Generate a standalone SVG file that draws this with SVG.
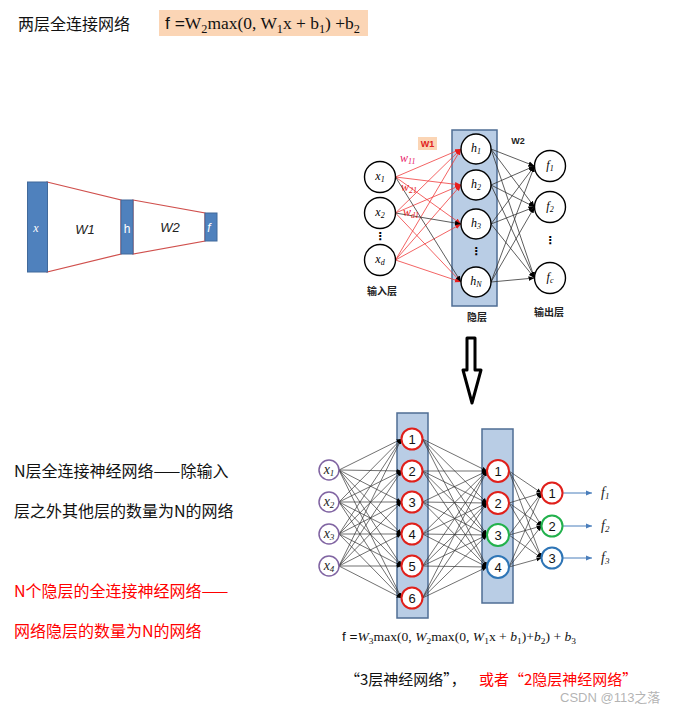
<svg xmlns="http://www.w3.org/2000/svg" width="684" height="704" viewBox="0 0 684 704">
<style>
.cjk{font-family:"Noto Sans CJK SC","Noto Sans",sans-serif;}
.math{font-family:"Liberation Serif","DejaVu Serif",serif;}
.it{font-family:"Liberation Serif","DejaVu Serif",serif;font-style:italic;}
.num{font-family:"Liberation Sans",Arial,sans-serif;font-size:13px;fill:#111;text-anchor:middle;}
.nc{fill:#fff;stroke:#000;stroke-width:1.4;}
.box{fill:#B9CDE5;stroke:#4F6D94;stroke-width:1.5;}
.red{stroke:#F03C3C;stroke-width:0.8;fill:none;marker-end:url(#mr);}
.blk{stroke:#333;stroke-width:0.8;fill:none;marker-end:url(#mk);}
.bl{stroke:#333;stroke-width:0.7;fill:none;marker-end:url(#mk2);}
.out{stroke:#4A7EBB;stroke-width:1;fill:none;marker-end:url(#mb);}
.bar{fill:#4F81BD;stroke:#41699A;stroke-width:1;}
</style>
<defs>
<marker id="mr" viewBox="0 0 10 10" refX="10" refY="5" markerWidth="6" markerHeight="6" markerUnits="userSpaceOnUse" orient="auto"><path d="M0,1 L10,5 L0,9 z" fill="#E81E1E"/></marker>
<marker id="mk" viewBox="0 0 10 10" refX="10" refY="5" markerWidth="6" markerHeight="6" markerUnits="userSpaceOnUse" orient="auto"><path d="M0,1 L10,5 L0,9 z" fill="#000"/></marker>
<marker id="mk2" viewBox="0 0 10 10" refX="10" refY="5" markerWidth="5" markerHeight="5" markerUnits="userSpaceOnUse" orient="auto"><path d="M0,1 L10,5 L0,9 z" fill="#000"/></marker>
<marker id="mb" viewBox="0 0 10 10" refX="10" refY="5" markerWidth="6" markerHeight="6" markerUnits="userSpaceOnUse" orient="auto"><path d="M0,1 L10,5 L0,9 z" fill="#4A7EBB"/></marker>
</defs>
<rect width="684" height="704" fill="#fff"/>

<!-- title -->
<g id="title">
<text class="cjk" x="18" y="30" font-size="16" fill="#111">两层全连接网络</text>
<rect x="159" y="10" width="209" height="26" fill="#FBD5B5"/>
<text class="math" x="165" y="29" font-size="17" fill="#111" textLength="195" lengthAdjust="spacingAndGlyphs"><tspan font-family="Liberation Sans">f  =</tspan>W<tspan font-size="12" dy="4">2</tspan><tspan dy="-4">max(0, W</tspan><tspan font-size="12" dy="4">1</tspan><tspan dy="-4">x + b</tspan><tspan font-size="12" dy="4">1</tspan><tspan dy="-4">) +b</tspan><tspan font-size="12" dy="4">2</tspan></text>
</g>

<!-- left simple diagram -->
<g id="simple">
<polygon points="47,182 121,200 121,254 47,272" fill="#fff" stroke="#D0504D" stroke-width="1.2"/>
<polygon points="133,200 205,213 205,241 133,254" fill="#fff" stroke="#D0504D" stroke-width="1.2"/>
<rect class="bar" x="27.5" y="182" width="20" height="90"/>
<rect class="bar" x="121" y="200" width="12" height="54"/>
<rect class="bar" x="205" y="213" width="12" height="28"/>
<text class="it" x="36" y="232" font-size="12" fill="#fff" text-anchor="middle">x</text>
<text x="85" y="234" font-size="13" fill="#222" text-anchor="middle" font-family="Liberation Sans" font-style="italic">W1</text>
<text x="127" y="233" font-size="12" fill="#fff" text-anchor="middle" font-family="Liberation Sans">h</text>
<text x="170" y="232" font-size="13" fill="#222" text-anchor="middle" font-family="Liberation Sans" font-style="italic">W2</text>
<text x="209" y="232" font-size="12" fill="#fff" text-anchor="middle" font-family="Liberation Sans" font-style="italic">f</text>
</g>

<!-- top network hidden box -->
<g id="top-hidden-box"><rect class="box" x="452" y="130" width="45" height="176"/></g>

<g id="top-connectors">
<line class="red" x1="395.5" y1="177" x2="461" y2="149"/>
<line class="red" x1="395.5" y1="177" x2="461" y2="185"/>
<line class="red" x1="395.5" y1="177" x2="461" y2="224"/>
<line class="red" x1="395.5" y1="213" x2="461" y2="149"/>
<line class="red" x1="395.5" y1="213" x2="461" y2="185"/>
<line class="red" x1="395.5" y1="213" x2="461" y2="282"/>
<line class="red" x1="395.5" y1="260" x2="461" y2="149"/>
<line class="red" x1="395.5" y1="260" x2="461" y2="185"/>
<line class="red" x1="395.5" y1="260" x2="461" y2="224"/>
<line class="red" x1="395.5" y1="260" x2="461" y2="282"/>
<line class="blk" x1="395.5" y1="177" x2="461" y2="282"/>
<line class="blk" x1="395.5" y1="213" x2="461" y2="224"/>

<line class="blk" x1="491" y1="149" x2="534.5" y2="166"/>
<line class="blk" x1="491" y1="149" x2="534.5" y2="207"/>
<line class="blk" x1="491" y1="149" x2="534.5" y2="278"/>
<line class="blk" x1="491" y1="185" x2="534.5" y2="166"/>
<line class="blk" x1="491" y1="185" x2="534.5" y2="207"/>
<line class="blk" x1="491" y1="185" x2="534.5" y2="278"/>
<line class="blk" x1="491" y1="224" x2="534.5" y2="166"/>
<line class="blk" x1="491" y1="224" x2="534.5" y2="207"/>
<line class="blk" x1="491" y1="224" x2="534.5" y2="278"/>
<line class="blk" x1="491" y1="282" x2="534.5" y2="166"/>
<line class="blk" x1="491" y1="282" x2="534.5" y2="207"/>
<line class="blk" x1="491" y1="282" x2="534.5" y2="278"/>
</g>

<g id="top-labels">
<rect x="418" y="137" width="19" height="13" fill="#FBD5B5"/>
<text x="427.5" y="147" font-size="9" font-weight="bold" fill="#E02020" text-anchor="middle" font-family="Liberation Sans">W1</text>
<text x="518" y="144" font-size="9" font-weight="bold" fill="#222" text-anchor="middle" font-family="Liberation Sans">W2</text>
<text class="it" x="400" y="162" font-size="12" fill="#E8206A">w<tspan font-size="8" dy="2">11</tspan></text>
<text class="it" x="401" y="191" font-size="12" fill="#E81E1E">w<tspan font-size="8" dy="2">21</tspan></text>
<text class="it" x="403" y="216" font-size="12" fill="#E81E1E">w<tspan font-size="8" dy="2">d1</tspan></text>
<text class="cjk" x="382" y="295" font-size="10" font-weight="bold" fill="#222" text-anchor="middle">输入层</text>
<text class="cjk" x="477" y="321" font-size="10" font-weight="bold" fill="#222" text-anchor="middle">隐层</text>
<text class="cjk" x="549" y="316" font-size="10" font-weight="bold" fill="#222" text-anchor="middle">输出层</text>
</g>

<g id="x1"><circle class="nc" cx="380" cy="177" r="15.5"/><text class="it" x="380" y="180" font-size="12" text-anchor="middle">x<tspan font-size="8" dy="2">1</tspan></text></g>
<g id="x2"><circle class="nc" cx="380" cy="213" r="15.5"/><text class="it" x="380" y="216" font-size="12" text-anchor="middle">x<tspan font-size="8" dy="2">2</tspan></text></g>
<g id="xdots"><text x="380" y="240" font-size="11" font-weight="bold" text-anchor="middle" font-family="DejaVu Sans">⋮</text></g>
<g id="xd"><circle class="nc" cx="380" cy="260" r="15.5"/><text class="it" x="380" y="263" font-size="12" text-anchor="middle">x<tspan font-size="8" dy="2">d</tspan></text></g>

<g id="h1"><circle class="nc" cx="476" cy="149" r="15"/><text class="it" x="476" y="152" font-size="12" text-anchor="middle">h<tspan font-size="8" dy="2">1</tspan></text></g>
<g id="h2"><circle class="nc" cx="476" cy="185" r="15"/><text class="it" x="476" y="188" font-size="12" text-anchor="middle">h<tspan font-size="8" dy="2">2</tspan></text></g>
<g id="h3"><circle class="nc" cx="476" cy="224" r="15"/><text class="it" x="476" y="227" font-size="12" text-anchor="middle">h<tspan font-size="8" dy="2">3</tspan></text></g>
<g id="hdots"><text x="476" y="255" font-size="11" font-weight="bold" text-anchor="middle" font-family="DejaVu Sans">⋮</text></g>
<g id="hN"><circle class="nc" cx="476" cy="282" r="15"/><text class="it" x="476" y="285" font-size="12" text-anchor="middle">h<tspan font-size="8" dy="2">N</tspan></text></g>

<g id="f1"><circle class="nc" cx="550" cy="166" r="15.5"/><text class="it" x="550" y="169" font-size="12" text-anchor="middle">f<tspan font-size="8" dy="2">1</tspan></text></g>
<g id="f2"><circle class="nc" cx="550" cy="207" r="15.5"/><text class="it" x="550" y="210" font-size="12" text-anchor="middle">f<tspan font-size="8" dy="2">2</tspan></text></g>
<g id="fdots"><text x="550" y="244" font-size="11" font-weight="bold" text-anchor="middle" font-family="DejaVu Sans">⋮</text></g>
<g id="fc"><circle class="nc" cx="550" cy="278" r="15.5"/><text class="it" x="550" y="281" font-size="12" text-anchor="middle">f<tspan font-size="8" dy="2">c</tspan></text></g>

<!-- big hollow arrow -->
<g id="big-arrow"><path d="M467,370 L467,338 L475,338 L475,370 L481,370 L472,403 L463,370 Z" fill="#fff" stroke="#000" stroke-width="3" stroke-linejoin="round"/></g>

<!-- bottom network -->
<g id="bottom-boxes">
<rect class="box" x="397" y="413" width="31" height="205"/>
<rect class="box" x="482" y="429" width="31" height="174"/>
</g>

<g id="bottom-connectors">
<line class="bl" x1="339" y1="470" x2="401.5" y2="439"/><line class="bl" x1="339" y1="470" x2="401.5" y2="471"/><line class="bl" x1="339" y1="470" x2="401.5" y2="502"/><line class="bl" x1="339" y1="470" x2="401.5" y2="534"/><line class="bl" x1="339" y1="470" x2="401.5" y2="566"/><line class="bl" x1="339" y1="470" x2="401.5" y2="598"/>
<line class="bl" x1="339" y1="502" x2="401.5" y2="439"/><line class="bl" x1="339" y1="502" x2="401.5" y2="471"/><line class="bl" x1="339" y1="502" x2="401.5" y2="502"/><line class="bl" x1="339" y1="502" x2="401.5" y2="534"/><line class="bl" x1="339" y1="502" x2="401.5" y2="566"/><line class="bl" x1="339" y1="502" x2="401.5" y2="598"/>
<line class="bl" x1="339" y1="534" x2="401.5" y2="439"/><line class="bl" x1="339" y1="534" x2="401.5" y2="471"/><line class="bl" x1="339" y1="534" x2="401.5" y2="502"/><line class="bl" x1="339" y1="534" x2="401.5" y2="534"/><line class="bl" x1="339" y1="534" x2="401.5" y2="566"/><line class="bl" x1="339" y1="534" x2="401.5" y2="598"/>
<line class="bl" x1="339" y1="566" x2="401.5" y2="439"/><line class="bl" x1="339" y1="566" x2="401.5" y2="471"/><line class="bl" x1="339" y1="566" x2="401.5" y2="502"/><line class="bl" x1="339" y1="566" x2="401.5" y2="534"/><line class="bl" x1="339" y1="566" x2="401.5" y2="566"/><line class="bl" x1="339" y1="566" x2="401.5" y2="598"/>

<line class="bl" x1="422.5" y1="439" x2="487" y2="471"/><line class="bl" x1="422.5" y1="439" x2="487" y2="503"/><line class="bl" x1="422.5" y1="439" x2="487" y2="535"/><line class="bl" x1="422.5" y1="439" x2="487" y2="567"/>
<line class="bl" x1="422.5" y1="471" x2="487" y2="471"/><line class="bl" x1="422.5" y1="471" x2="487" y2="503"/><line class="bl" x1="422.5" y1="471" x2="487" y2="535"/><line class="bl" x1="422.5" y1="471" x2="487" y2="567"/>
<line class="bl" x1="422.5" y1="502" x2="487" y2="471"/><line class="bl" x1="422.5" y1="502" x2="487" y2="503"/><line class="bl" x1="422.5" y1="502" x2="487" y2="535"/><line class="bl" x1="422.5" y1="502" x2="487" y2="567"/>
<line class="bl" x1="422.5" y1="534" x2="487" y2="471"/><line class="bl" x1="422.5" y1="534" x2="487" y2="503"/><line class="bl" x1="422.5" y1="534" x2="487" y2="535"/><line class="bl" x1="422.5" y1="534" x2="487" y2="567"/>
<line class="bl" x1="422.5" y1="566" x2="487" y2="471"/><line class="bl" x1="422.5" y1="566" x2="487" y2="503"/><line class="bl" x1="422.5" y1="566" x2="487" y2="535"/><line class="bl" x1="422.5" y1="566" x2="487" y2="567"/>
<line class="bl" x1="422.5" y1="598" x2="487" y2="471"/><line class="bl" x1="422.5" y1="598" x2="487" y2="503"/><line class="bl" x1="422.5" y1="598" x2="487" y2="535"/><line class="bl" x1="422.5" y1="598" x2="487" y2="567"/>

<line class="bl" x1="509" y1="471" x2="541.5" y2="493"/><line class="bl" x1="509" y1="471" x2="541.5" y2="526"/><line class="bl" x1="509" y1="471" x2="541.5" y2="558"/>
<line class="bl" x1="509" y1="503" x2="541.5" y2="493"/><line class="bl" x1="509" y1="503" x2="541.5" y2="526"/><line class="bl" x1="509" y1="503" x2="541.5" y2="558"/>
<line class="bl" x1="509" y1="535" x2="541.5" y2="493"/><line class="bl" x1="509" y1="535" x2="541.5" y2="526"/><line class="bl" x1="509" y1="535" x2="541.5" y2="558"/>
<line class="bl" x1="509" y1="567" x2="541.5" y2="493"/><line class="bl" x1="509" y1="567" x2="541.5" y2="526"/><line class="bl" x1="509" y1="567" x2="541.5" y2="558"/>

<line class="out" x1="563" y1="493" x2="592" y2="493"/>
<line class="out" x1="563" y1="526" x2="592" y2="526"/>
<line class="out" x1="563" y1="558" x2="592" y2="558"/>
</g>

<g id="bx1"><circle cx="329" cy="470" r="10" fill="#fff" stroke="#8064A2" stroke-width="1.5"/><text class="it" x="329" y="474" font-size="14" text-anchor="middle" fill="#222">x<tspan font-size="9" dy="2">1</tspan></text></g>
<g id="bx2"><circle cx="329" cy="502" r="10" fill="#fff" stroke="#8064A2" stroke-width="1.5"/><text class="it" x="329" y="506" font-size="14" text-anchor="middle" fill="#222">x<tspan font-size="9" dy="2">2</tspan></text></g>
<g id="bx3"><circle cx="329" cy="534" r="10" fill="#fff" stroke="#8064A2" stroke-width="1.5"/><text class="it" x="329" y="538" font-size="14" text-anchor="middle" fill="#222">x<tspan font-size="9" dy="2">3</tspan></text></g>
<g id="bx4"><circle cx="329" cy="566" r="10" fill="#fff" stroke="#8064A2" stroke-width="1.5"/><text class="it" x="329" y="570" font-size="14" text-anchor="middle" fill="#222">x<tspan font-size="9" dy="2">4</tspan></text></g>

<g id="a1"><circle cx="412" cy="439" r="10.5" fill="#fff" stroke="#E0201B" stroke-width="2"/><text class="num" x="412" y="444">1</text></g>
<g id="a2"><circle cx="412" cy="471" r="10.5" fill="#fff" stroke="#E0201B" stroke-width="2"/><text class="num" x="412" y="476">2</text></g>
<g id="a3"><circle cx="412" cy="502" r="10.5" fill="#fff" stroke="#E0201B" stroke-width="2"/><text class="num" x="412" y="507">3</text></g>
<g id="a4"><circle cx="412" cy="534" r="10.5" fill="#fff" stroke="#E0201B" stroke-width="2"/><text class="num" x="412" y="539">4</text></g>
<g id="a5"><circle cx="412" cy="566" r="10.5" fill="#fff" stroke="#E0201B" stroke-width="2"/><text class="num" x="412" y="571">5</text></g>
<g id="a6"><circle cx="412" cy="598" r="10.5" fill="#fff" stroke="#E0201B" stroke-width="2"/><text class="num" x="412" y="603">6</text></g>

<g id="b1"><circle cx="498" cy="471" r="11" fill="#fff" stroke="#E0201B" stroke-width="2"/><text class="num" x="498" y="476">1</text></g>
<g id="b2"><circle cx="498" cy="503" r="11" fill="#fff" stroke="#E0201B" stroke-width="2"/><text class="num" x="498" y="508">2</text></g>
<g id="b3"><circle cx="498" cy="535" r="11" fill="#fff" stroke="#22B14C" stroke-width="2"/><text class="num" x="498" y="540">3</text></g>
<g id="b4"><circle cx="498" cy="567" r="11" fill="#fff" stroke="#2E75B6" stroke-width="2"/><text class="num" x="498" y="572">4</text></g>

<g id="o1"><circle cx="552" cy="493" r="10.5" fill="#fff" stroke="#E0201B" stroke-width="2"/><text class="num" x="552" y="498">1</text></g>
<g id="o2"><circle cx="552" cy="526" r="10.5" fill="#fff" stroke="#22B14C" stroke-width="2"/><text class="num" x="552" y="531">2</text></g>
<g id="o3"><circle cx="552" cy="558" r="10.5" fill="#fff" stroke="#2E75B6" stroke-width="2"/><text class="num" x="552" y="563">3</text></g>

<g id="flabels">
<text class="it" x="601" y="497" font-size="14" fill="#222">f<tspan font-size="9" dy="2">1</tspan></text>
<text class="it" x="601" y="530" font-size="14" fill="#222">f<tspan font-size="9" dy="2">2</tspan></text>
<text class="it" x="601" y="562" font-size="14" fill="#222">f<tspan font-size="9" dy="2">3</tspan></text>
</g>

<!-- bottom formula -->
<g id="formula2">
<text class="math" x="342" y="641" font-size="13" fill="#111" textLength="234" lengthAdjust="spacingAndGlyphs"><tspan font-family="Liberation Sans">f  =</tspan><tspan font-style="italic">W</tspan><tspan font-size="9" dy="3">3</tspan><tspan dy="-3">max(0, </tspan><tspan font-style="italic">W</tspan><tspan font-size="9" dy="3">2</tspan><tspan dy="-3">max(0, </tspan><tspan font-style="italic">W</tspan><tspan font-size="9" dy="3">1</tspan><tspan dy="-3">x + </tspan><tspan font-style="italic">b</tspan><tspan font-size="9" dy="3">1</tspan><tspan dy="-3">)+</tspan><tspan font-style="italic">b</tspan><tspan font-size="9" dy="3">2</tspan><tspan dy="-3">) + </tspan><tspan font-style="italic">b</tspan><tspan font-size="9" dy="3">3</tspan></text>
</g>

<!-- caption -->
<g id="caption">
<text class="cjk" x="345" y="685" font-size="15" fill="#111">“3层神经网络”，</text>
<text class="cjk" x="479" y="685" font-size="15" fill="#FF0000">或者“2隐层神经网络”</text>
</g>
<g id="watermark">
<text x="560" y="702" font-size="13" fill="#9a9a9a" fill-opacity="0.75" font-family="'Liberation Sans','Noto Sans CJK SC',sans-serif">CSDN @113之落</text>
</g>

<!-- left texts -->
<g id="left-text">
<text class="cjk" x="14" y="477" font-size="16" fill="#111">N层全连接神经网络——除输入</text>
<text class="cjk" x="14" y="517" font-size="16" fill="#111">层之外其他层的数量为N的网络</text>
<text class="cjk" x="14" y="597" font-size="16" fill="#FF0000">N个隐层的全连接神经网络——</text>
<text class="cjk" x="14" y="637" font-size="16" fill="#FF0000">网络隐层的数量为N的网络</text>
</g>
</svg>
